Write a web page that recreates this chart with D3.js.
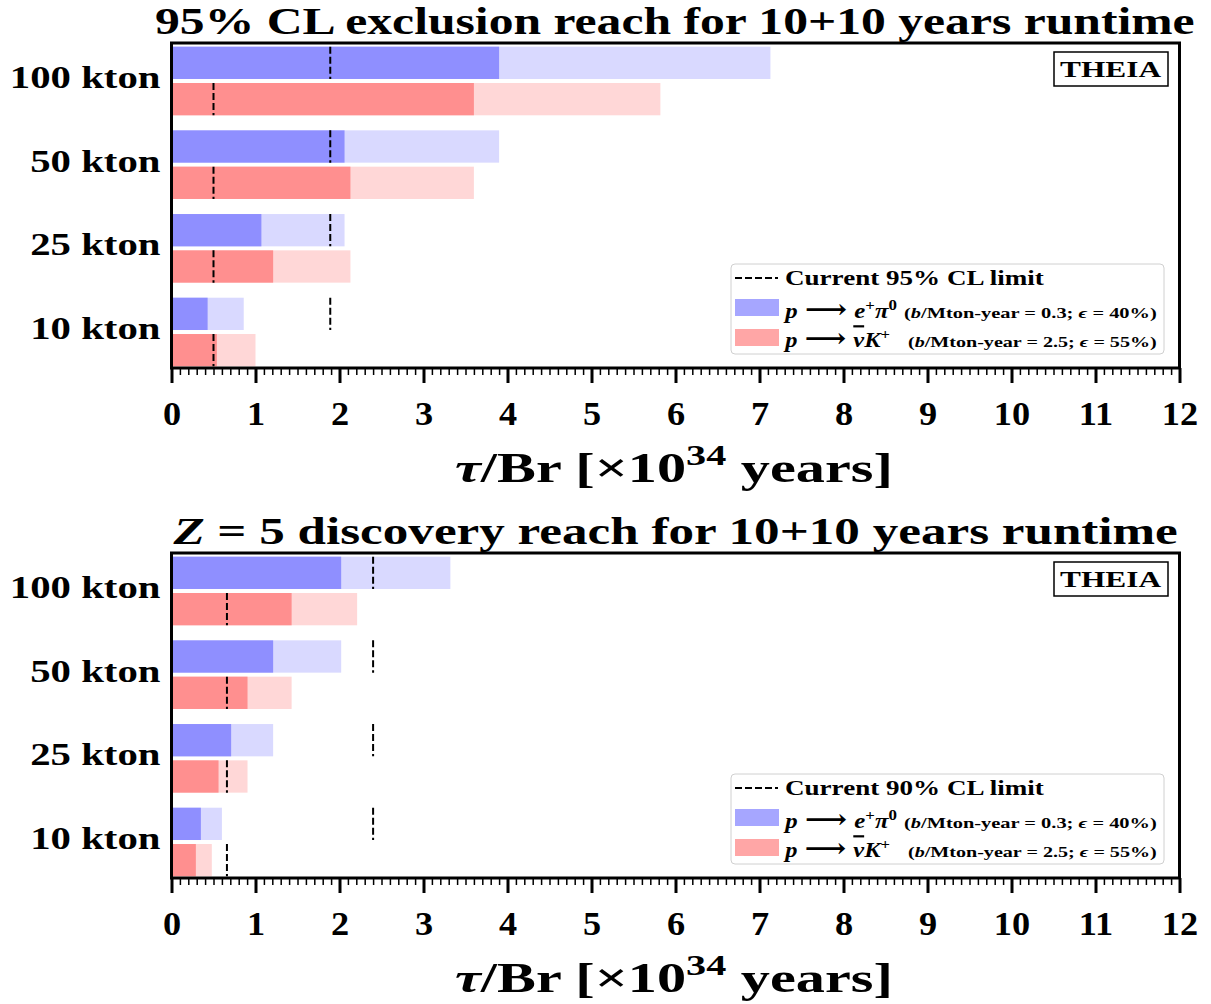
<!DOCTYPE html>
<html>
<head>
<meta charset="utf-8">
<script src="https://cdn.jsdelivr.net/npm/d3@7"></script>
<style>
  body { margin: 0; background: #fff; }
  text { font-family: "Liberation Serif", "DejaVu Serif", serif; font-weight: bold; fill: #000; }
</style>
</head>
<body>
<svg width="1211" height="1004"></svg>
<script>
// ---- data (x10^34 years) ----
const detectors = ["100 kton", "50 kton", "25 kton", "10 kton"];
const xTicks = [0, 1, 2, 3, 4, 5, 6, 7, 8, 9, 10, 11, 12];

// 95% CL exclusion: first 10 years (dark) and 10+10 years (light)
const exclEpi10 = [3.90, 2.06, 1.07, 0.43];
const exclEpi20 = [7.13, 3.90, 2.06, 0.86];
const exclNuK10 = [3.60, 2.13, 1.21, 0.54];
const exclNuK20 = [5.82, 3.60, 2.13, 1.00];
const exclLimits = [1.89, 0.50];   // e+pi0, nu K+

// Z = 5 discovery
const discEpi10 = [2.02, 1.21, 0.71, 0.35];
const discEpi20 = [3.32, 2.02, 1.21, 0.60];
const discNuK10 = [1.43, 0.905, 0.56, 0.29];
const discNuK20 = [2.21, 1.43, 0.905, 0.48];
const discLimits = [2.40, 0.66];

const svg = d3.select("svg");
const x = d3.scaleLinear().domain([0, 12]).range([171.5, 1179.5]);
const H = 325;

const blueDark = "#8f8fff", blueLight = "#d9d9ff", blueLeg = "#a6a6ff";
const redDark = "#ff8f8f", redLight = "#ffd7d7", redLeg = "#ffa6a6";

// squeeze/stretch a text horizontally so it spans [left, right]
function fitText(t, left, right) {
  const b = t.node().getBBox();
  const sx = (right - left) / b.width;
  t.attr("transform", `translate(${left},0) scale(${sx},1) translate(${-b.x},0)`);
}

function panel(top, titleParts, titleSpan, limits, epi10, epi20, nuk10, nuk20, clText) {
  const g = svg.append("g");
  const y = d3.scaleLinear().domain([-0.454, 3.43]).range([top, top + H]);

  const rows = [];
  detectors.forEach((d, k) => {
    rows.push({lo: k - 0.41, hi: k - 0.024, v10: epi10[k], v20: epi20[k], lim: limits[0], dark: blueDark, light: blueLight});
    rows.push({lo: k + 0.024, hi: k + 0.41, v10: nuk10[k], v20: nuk20[k], lim: limits[1], dark: redDark, light: redLight});
  });

  g.append("g").selectAll("rect").data(rows).join("rect")
    .attr("x", x(0)).attr("y", d => y(d.lo))
    .attr("width", d => x(d.v20) - x(0)).attr("height", d => y(d.hi) - y(d.lo))
    .attr("fill", d => d.light);
  g.append("g").selectAll("rect").data(rows).join("rect")
    .attr("x", x(0)).attr("y", d => y(d.lo))
    .attr("width", d => x(d.v10) - x(0)).attr("height", d => y(d.hi) - y(d.lo))
    .attr("fill", d => d.dark);
  g.append("g").selectAll("line").data(rows).join("line")
    .attr("x1", d => x(d.lim)).attr("x2", d => x(d.lim))
    .attr("y1", d => y(d.lo)).attr("y2", d => y(d.hi))
    .attr("stroke", "#000").attr("stroke-width", 2).attr("stroke-dasharray", "7,3");

  // x axis
  const minor = d3.axisBottom(x).tickValues(d3.range(0, 121).map(i => i / 10)).tickSize(7).tickFormat("");
  const mg = g.append("g").attr("transform", `translate(0,${top + H})`).call(minor);
  mg.select(".domain").remove();
  mg.selectAll(".tick line").attr("stroke-width", 1.5);

  const major = d3.axisBottom(x).tickValues(xTicks).tickSize(15).tickPadding(19).tickFormat(d3.format("d"));
  const ag = g.append("g").attr("transform", `translate(0,${top + H})`).call(major);
  ag.select(".domain").remove();
  ag.selectAll(".tick line").attr("stroke-width", 3);
  ag.selectAll(".tick text").attr("font-size", 33).attr("font-family", null)
    .attr("transform", "scale(1.1,1)");

  // y labels
  const yAxis = d3.axisLeft(y).tickValues([0, 1, 2, 3]).tickSize(0).tickPadding(0)
    .tickFormat(i => detectors[i]);
  const yg = g.append("g").attr("transform", `translate(${x(0) - 11},0)`).call(yAxis);
  yg.select(".domain").remove();
  const yt = yg.selectAll(".tick text").attr("font-size", 32).attr("font-family", null).attr("dy", "0.2em").attr("x", 0);
  const w0 = yt.nodes()[0].getBBox().width;
  yt.attr("transform", `scale(${151 / w0},1)`);

  // frame
  g.append("rect").attr("x", x(0)).attr("y", top).attr("width", x(12) - x(0)).attr("height", H)
    .attr("fill", "none").attr("stroke", "#000").attr("stroke-width", 3);

  // title
  const tt = g.append("text").attr("y", top - 9).attr("font-size", 37);
  titleParts.forEach(p => tt.append("tspan").attr("font-style", p.it ? "italic" : null).text(p.s));
  fitText(tt, titleSpan[0], titleSpan[1]);

  // x label
  const xl = g.append("text").attr("y", top + 439).attr("font-size", 42);
  xl.append("tspan").attr("font-style", "italic").text("τ");
  xl.append("tspan").text("/Br [×10");
  xl.append("tspan").attr("font-size", 29).attr("dy", -17).text("34");
  xl.append("tspan").attr("dy", 17).text(" years]");
  fitText(xl, 455, 893);

  // THEIA tag
  g.append("rect").attr("x", 1054).attr("y", top + 9).attr("width", 114).attr("height", 34)
    .attr("fill", "#fff").attr("stroke", "#000").attr("stroke-width", 1.5);
  const th = g.append("text").attr("y", top + 34).attr("font-size", 24).text("THEIA");
  fitText(th, 1060, 1162);

  // legend
  const lg = g.append("g").attr("transform", `translate(731,${top + 221})`);
  lg.append("rect").attr("width", 433).attr("height", 90).attr("rx", 4)
    .attr("fill", "#fff").attr("fill-opacity", 0.8).attr("stroke", "#d0d0d0");
  lg.append("line").attr("x1", 4).attr("x2", 47).attr("y1", 14).attr("y2", 14)
    .attr("stroke", "#000").attr("stroke-width", 2).attr("stroke-dasharray", "7,3");
  const l1 = lg.append("text").attr("y", 21).attr("font-size", 21).text(clText);
  fitText(l1, 54, 313);

  lg.append("rect").attr("x", 4).attr("y", 35).attr("width", 44).attr("height", 17).attr("fill", blueLeg);
  const m1 = lg.append("text").attr("y", 54).attr("font-size", 22);
  m1.append("tspan").attr("font-style", "italic").text("p");
  m1.append("tspan").attr("font-size", 26).text(" ⟶ ");
  m1.append("tspan").attr("font-style", "italic").text("e");
  m1.append("tspan").attr("font-size", 15).attr("dy", -8).text("+");
  m1.append("tspan").attr("font-style", "italic").attr("dy", 8).text("π");
  m1.append("tspan").attr("font-size", 15).attr("dy", -8).text("0");
  fitText(m1, 52, 166);
  const p1 = lg.append("text").attr("y", 54).attr("font-size", 15);
  p1.append("tspan").text("(");
  p1.append("tspan").attr("font-style", "italic").text("b");
  p1.append("tspan").text("/Mton-year = 0.3; ");
  p1.append("tspan").attr("font-style", "italic").text("ϵ");
  p1.append("tspan").text(" = 40%)");
  fitText(p1, 173, 426);

  lg.append("rect").attr("x", 4).attr("y", 65).attr("width", 44).attr("height", 17).attr("fill", redLeg);
  const m2 = lg.append("text").attr("y", 83).attr("font-size", 22);
  m2.append("tspan").attr("font-style", "italic").text("p");
  m2.append("tspan").attr("font-size", 26).text(" ⟶ ");
  m2.append("tspan").attr("font-style", "italic").attr("text-decoration", "overline").text("ν");
  m2.append("tspan").attr("font-style", "italic").text("K");
  m2.append("tspan").attr("font-size", 15).attr("dy", -8).text("+");
  fitText(m2, 52, 159);
  const p2 = lg.append("text").attr("y", 83).attr("font-size", 15);
  p2.append("tspan").text("(");
  p2.append("tspan").attr("font-style", "italic").text("b");
  p2.append("tspan").text("/Mton-year = 2.5; ");
  p2.append("tspan").attr("font-style", "italic").text("ϵ");
  p2.append("tspan").text(" = 55%)");
  fitText(p2, 177, 426);
}

panel(43, [{s: "95% CL exclusion reach for 10+10 years runtime"}], [155, 1195],
  exclLimits, exclEpi10, exclEpi20, exclNuK10, exclNuK20, "Current 95% CL limit");
panel(553, [{s: "Z", it: true}, {s: " = 5 discovery reach for 10+10 years runtime"}], [172, 1178],
  discLimits, discEpi10, discEpi20, discNuK10, discNuK20, "Current 90% CL limit");
</script>
</body>
</html>
